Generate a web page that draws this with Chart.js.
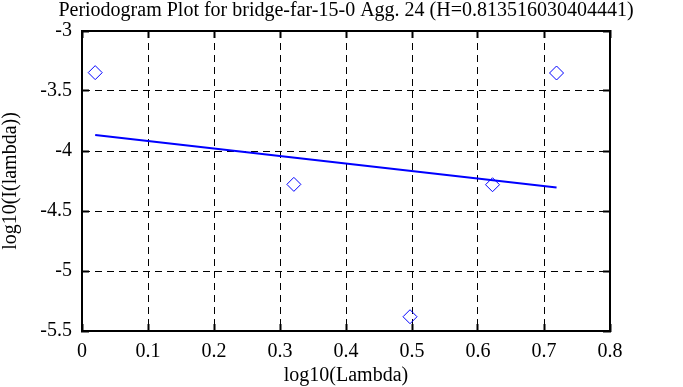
<!doctype html>
<html>
<head>
    <title>Periodogram Plot</title>
    <script src="https://cdn.jsdelivr.net/npm/chart.js@4/dist/chart.umd.min.js"></script>
    <style>
    body{
        margin: 0;
        background: #ffffff;
    }
    </style>
</head>
<body>
    <canvas id="plot" width="683" height="387"></canvas>
    <script>
    // periodogram points, log10 scale
    var logLambda = [0.020, 0.321, 0.497, 0.622, 0.719];
    var logI = [-3.347, -4.278, -5.381, -4.281, -3.350];
    // fitted line end points
    var fitX = [0.020, 0.719];
    var fitY = [-3.867, -4.305];
    var xTicks = [0, 0.1, 0.2, 0.3, 0.4, 0.5, 0.6, 0.7, 0.8];
    var yTicks = [-5.5, -5, -4.5, -4, -3.5, -3];

    var titleText = 'Periodogram Plot for bridge-far-15-0 Agg. 24 (H=0.813516030404441)';
    var serif = '"Liberation Serif", "Times New Roman", serif';

    var points = logLambda.map(function (x, i) { return {x: x, y: logI[i]}; });
    var fit = fitX.map(function (x, i) { return {x: x, y: fitY[i]}; });

    function setTicks(list) {
        return function (scale) {
            scale.ticks = list.map(function (v) { return {value: v}; });
        };
    }
    function tickText(v) {
        return String(Math.round(v * 10) / 10);
    }

    // v4: grid line dash lives in border.dash, tick marks stay solid
    var gridStyle = {
        color: '#000000',
        lineWidth: 1,
        tickLength: -7,
        tickWidth: 2,
        tickColor: '#000000',
        tickBorderDash: []
    };
    var edgeGrid = {
        drawOnChartArea: false,
        tickLength: -7,
        tickWidth: 2,
        tickColor: '#000000'
    };
    var border = {display: true, color: '#000000', width: 2, dash: [7, 5]};
    var edgeBorder = {display: true, color: '#000000', width: 2};

    var config = {
        type: 'scatter',
        data: {
            datasets: [{
                data: points,
                showLine: false,
                pointStyle: 'rectRot',
                pointRadius: 7,
                pointBorderWidth: 1,
                borderColor: '#0000ff',
                backgroundColor: 'rgba(0,0,0,0)'
            }, {
                data: fit,
                showLine: true,
                pointRadius: 0,
                borderWidth: 2,
                borderColor: '#0000ff',
                backgroundColor: '#0000ff'
            }]
        },
        options: {
            responsive: false,
            animation: false,
            devicePixelRatio: 1,
            layout: {padding: {left: 9, right: 0, top: 0, bottom: 0}},
            plugins: {
                legend: {display: false},
                tooltip: {enabled: false},
                title: {
                    display: true,
                    text: titleText,
                    color: '#000000',
                    font: {family: serif, size: 20, weight: 'normal', lineHeight: 1},
                    padding: {top: 1, bottom: 10}
                }
            },
            scales: {
                x: {
                    type: 'linear',
                    position: 'bottom',
                    min: 0,
                    max: 0.8,
                    afterBuildTicks: setTicks(xTicks),
                    afterFit: function (s) { s.height = 56; },
                    grid: gridStyle,
                    border: border,
                    ticks: {
                        color: '#000000',
                        font: {family: serif, size: 20},
                        padding: 16,
                        maxRotation: 0,
                        callback: tickText
                    },
                    title: {
                        display: true,
                        text: 'log10(Lambda)',
                        color: '#000000',
                        font: {family: serif, size: 20, lineHeight: 1},
                        padding: {top: 0, bottom: 1}
                    }
                },
                y: {
                    type: 'linear',
                    position: 'left',
                    min: -5.5,
                    max: -3,
                    afterBuildTicks: setTicks(yTicks),
                    afterFit: function (s) { s.width = 73; },
                    grid: gridStyle,
                    border: border,
                    ticks: {
                        color: '#000000',
                        font: {family: serif, size: 20},
                        padding: 17,
                        callback: tickText
                    },
                    title: {
                        display: true,
                        text: 'log10(I(lambda))',
                        color: '#000000',
                        font: {family: serif, size: 20, lineHeight: 1},
                        padding: {top: -8, bottom: 0}
                    }
                },
                x2: {
                    type: 'linear',
                    position: 'top',
                    min: 0,
                    max: 0.8,
                    afterBuildTicks: setTicks(xTicks),
                    afterFit: function (s) { s.height = 0; },
                    grid: edgeGrid,
                    border: edgeBorder,
                    ticks: {display: false}
                },
                y2: {
                    type: 'linear',
                    position: 'right',
                    min: -5.5,
                    max: -3,
                    afterBuildTicks: setTicks(yTicks),
                    afterFit: function (s) { s.width = 73; },
                    grid: edgeGrid,
                    border: edgeBorder,
                    ticks: {display: false}
                }
            }
        }
    };

    window.onload = function () {
        var ctx = document.getElementById('plot').getContext('2d');
        window.myPlot = new Chart(ctx, config);
    };
    </script>
</body>
</html>
